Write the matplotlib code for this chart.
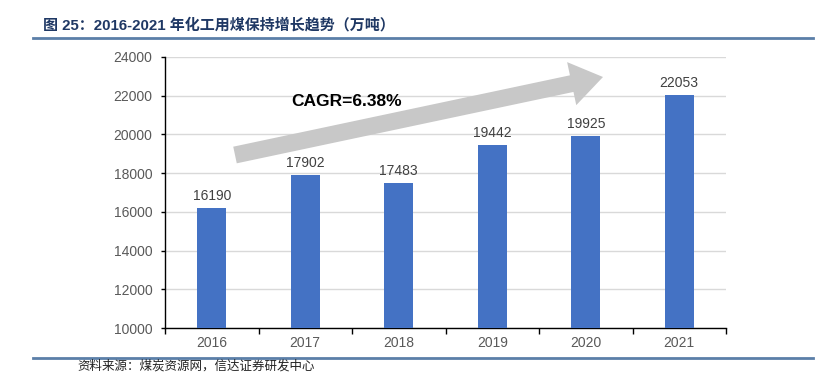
import matplotlib

matplotlib.use("Agg")
import matplotlib.pyplot as plt
import matplotlib.patches as mpatches
from matplotlib.lines import Line2D
from matplotlib.transforms import Affine2D

plt.rcParams["font.family"] = ["Liberation Sans", "Noto Sans CJK SC", "DejaVu Sans"]

years = ["2016", "2017", "2018", "2019", "2020", "2021"]
values = [16190, 17902, 17483, 19442, 19925, 22053]
y_ticks = [10000, 12000, 14000, 16000, 18000, 20000, 22000, 24000]
title = "图 25：2016-2021 年化工用煤保持增长趋势（万吨）"
source = "资料来源：煤炭资源网，信达证券研发中心"
cagr_label = "CAGR=6.38%"

W, H = 831, 382
fig = plt.figure(figsize=(W / 100, H / 100), dpi=100)
ax = fig.add_axes([165 / W, 1 - 328 / H, (726 - 165) / W, (328 - 57) / H])

x = list(range(len(years)))
ax.bar(x, values, width=0.31, color="#4472C4", zorder=3)
for xi, v in zip(x, values):
    ax.text(xi, v + 250, str(v), ha="center", va="bottom", fontsize=10, color="#404040")

ax.set_xlim(-0.5, len(years) - 0.5)
ax.set_ylim(10000, 24000)
ax.set_yticks(y_ticks)
ax.set_yticklabels([str(t) for t in y_ticks], fontsize=10, color="#595959")
ax.set_xticks(x)
ax.set_xticklabels(years, fontsize=10, color="#595959")
ax.tick_params(axis="x", length=0, pad=6)
ax.tick_params(axis="y", length=3, width=1, pad=6, direction="out")
ax.set_xticks([i + 0.5 for i in range(-1, len(years))], minor=True)
ax.tick_params(axis="x", which="minor", length=4, width=1, direction="out")
ax.grid(axis="y", color="#D9D9D9", linewidth=1, zorder=0)
for s in ["top", "right"]:
    ax.spines[s].set_visible(False)
for s in ["left", "bottom"]:
    ax.spines[s].set_color("black")
    ax.spines[s].set_linewidth(1)

# growth arrow, drawn in pixel units of the figure
px = Affine2D().scale(1 / W, 1 / H) + fig.transFigure
arrow = mpatches.FancyArrow(
    235, H - 155, 368, 78,
    width=17, head_width=44, head_length=32,
    length_includes_head=True, color="#C8C8C8", linewidth=0,
    transform=px, zorder=2,
)
fig.patches.append(arrow)
fig.text(347 / W, 1 - 101 / H, cagr_label, ha="center", va="center",
         fontsize=12.5, fontweight="bold", color="black")

# header and footer
fig.text(43 / W, 1 - 25 / H, title, ha="left", va="center", fontsize=10.8,
         fontweight="bold", color="#1F3864",
         family=["Liberation Sans", "Noto Sans CJK SC"])
fig.lines.append(Line2D([33 / W, 813 / W], [1 - 38 / H, 1 - 38 / H],
                        transform=fig.transFigure, color="#5B7FA8", linewidth=2))
fig.lines.append(Line2D([33 / W, 813 / W], [1 - 358 / H, 1 - 358 / H],
                        transform=fig.transFigure, color="#5B7FA8", linewidth=2))
fig.text(77 / W, 1 - 366 / H, source, ha="left", va="center", fontsize=9,
         style="italic", color="#222222",
         family=["Noto Sans CJK SC", "DejaVu Sans"])

fig.savefig("out.png", dpi=100)
